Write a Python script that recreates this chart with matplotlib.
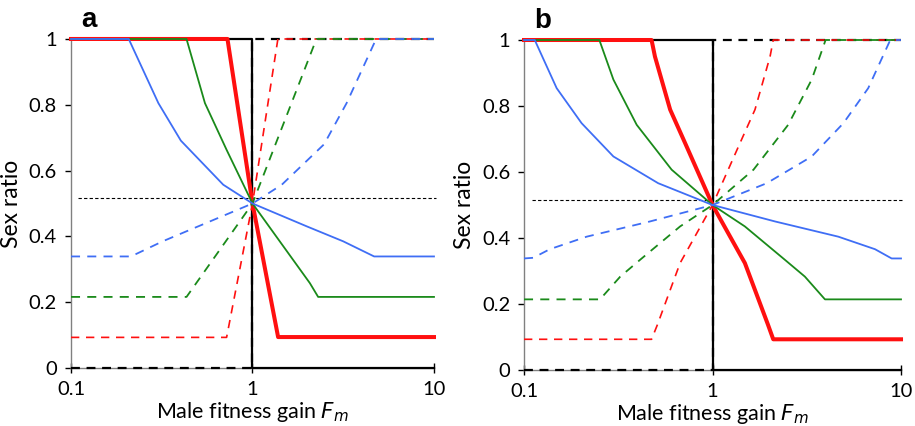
import numpy as np
import matplotlib
matplotlib.use("Agg")
import matplotlib.pyplot as plt
from matplotlib.ticker import FixedLocator, FixedFormatter, NullLocator

plt.rcParams['font.family'] = ['Lato', 'DejaVu Sans']

# ---- panel a data ----
a_blue_x = [0.1, 0.208, 0.303, 0.403, 0.69, 1.0, 2.0, 3.16, 4.68, 10]
a_blue_y = [1.0, 1.0, 0.805, 0.691, 0.557, 0.5, 0.43, 0.385, 0.339, 0.339]
a_blue_dx = [0.1, 0.214, 0.32, 0.5, 1.0, 1.45, 2.48, 3.3, 4.8, 10]
a_blue_dy = [0.339, 0.339, 0.385, 0.43, 0.5, 0.557, 0.68, 0.805, 1.0, 1.0]
a_green_x = [0.1, 0.433, 0.547, 0.72, 1.0, 2.07, 2.30, 10]
a_green_y = [1.0, 1.0, 0.805, 0.663, 0.5, 0.258, 0.216, 0.216]
a_green_dx = [0.1, 0.433, 1.0, 2.25, 10]
a_green_dy = [0.216, 0.216, 0.5, 1.0, 1.0]
a_red_x = [0.1, 0.728, 1.0, 1.384, 10]
a_red_y = [1.0, 1.0, 0.5, 0.094, 0.094]
a_red_dx = [0.1, 0.72, 1.0, 1.38, 10]
a_red_dy = [0.093, 0.093, 0.5, 1.0, 1.0]

# ---- panel b data ----
b_blue_x = [0.1, 0.114, 0.149, 0.202, 0.298, 0.515, 1.0, 2.15, 4.65, 7.28, 8.92, 10]
b_blue_y = [1.0, 1.0, 0.854, 0.748, 0.647, 0.566, 0.5, 0.45, 0.404, 0.366, 0.338, 0.338]
b_blue_dx = [0.1, 0.112, 0.137, 0.215, 0.465, 1.0, 1.94, 3.36, 4.95, 6.7, 8.77, 10]
b_blue_dy = [0.338, 0.34, 0.366, 0.404, 0.45, 0.5, 0.566, 0.647, 0.748, 0.854, 1.0, 1.0]
b_green_x = [0.1, 0.251, 0.298, 0.396, 0.607, 1.0, 1.485, 2.42, 3.09, 3.95, 10]
b_green_y = [1.0, 1.0, 0.88, 0.743, 0.607, 0.5, 0.435, 0.334, 0.283, 0.214, 0.214]
b_green_dx = [0.1, 0.253, 0.324, 0.413, 0.673, 1.0, 1.65, 2.52, 3.36, 3.98, 10]
b_green_dy = [0.214, 0.214, 0.283, 0.334, 0.435, 0.5, 0.607, 0.743, 0.88, 1.0, 1.0]
b_red_x = [0.1, 0.475, 0.495, 0.596, 0.715, 1.0, 1.21, 1.485, 1.97, 2.10, 10]
b_red_y = [1.0, 1.0, 0.95, 0.789, 0.688, 0.5, 0.415, 0.324, 0.137, 0.093, 0.093]
b_red_dx = [0.1, 0.475, 0.51, 0.673, 0.826, 1.0, 1.4, 1.68, 2.02, 2.1, 10]
b_red_dy = [0.093, 0.093, 0.137, 0.324, 0.415, 0.5, 0.688, 0.789, 0.95, 1.0, 1.0]

black_x = [0.1, 1.0, 1.0, 10]
black_y = [1.0, 1.0, 0.0, 0.0]
black_dy = [0.0, 0.0, 1.0, 1.0]
ref_level = 0.516

xticks = [0.1, 1, 10]
xtick_labels = ["0.1", "1", "10"]
yticks = [0, 0.2, 0.4, 0.6, 0.8, 1]
ytick_labels = ["0", "0.2", "0.4", "0.6", "0.8", "1"]

BLUE = "#3f6ef5"
GREEN = "#1a8a1a"
RED = "#ff1010"

panels = [
    ("a", [0.0776, 0.1362, 0.3967, 0.7723], 0.109,
     (a_blue_x, a_blue_y, a_blue_dx, a_blue_dy),
     (a_green_x, a_green_y, a_green_dx, a_green_dy),
     (a_red_x, a_red_y, a_red_dx, a_red_dy)),
    ("b", [0.5727, 0.1315, 0.4120, 0.7746], 0.11,
     (b_blue_x, b_blue_y, b_blue_dx, b_blue_dy),
     (b_green_x, b_green_y, b_green_dx, b_green_dy),
     (b_red_x, b_red_y, b_red_dx, b_red_dy)),
]

fig = plt.figure(figsize=(9.15, 4.26), dpi=100)

for letter, rect, ref_start, blue, green, red in panels:
    ax = fig.add_axes(rect)
    ax.set_xscale("log")
    ax.set_xlim(0.1, 10)
    ax.set_ylim(0, 1)

    ax.plot([ref_start, 10.3], [ref_level, ref_level], color="black",
            lw=0.8, ls=(0, (3, 2)), clip_on=False, zorder=1)

    ax.plot(black_x, black_y, color="black", lw=1.6, clip_on=False, zorder=3)
    ax.plot(black_x, black_dy, color="black", lw=1.6, ls=(0, (4, 3)),
            clip_on=False, zorder=3)

    ax.plot(red[0], red[1], color=RED, lw=2.9, clip_on=False, zorder=4)
    ax.plot(red[2], red[3], color=RED, lw=1.2, ls=(0, (5, 4)),
            clip_on=False, zorder=4)
    ax.plot(green[0], green[1], color=GREEN, lw=1.3, clip_on=False, zorder=5)
    ax.plot(green[2], green[3], color=GREEN, lw=1.3, ls=(0, (5, 4)),
            clip_on=False, zorder=5)
    ax.plot(blue[0], blue[1], color=BLUE, lw=1.3, clip_on=False, zorder=6)
    ax.plot(blue[2], blue[3], color=BLUE, lw=1.3, ls=(0, (5, 4)),
            clip_on=False, zorder=6)

    ax.spines["top"].set_visible(False)
    ax.spines["right"].set_visible(False)
    for side in ("left", "bottom"):
        ax.spines[side].set_color("#808080")
        ax.spines[side].set_linewidth(1.0)
        ax.spines[side].set_zorder(2)

    ax.xaxis.set_major_locator(FixedLocator(xticks))
    ax.xaxis.set_major_formatter(FixedFormatter(xtick_labels))
    ax.xaxis.set_minor_locator(NullLocator())
    ax.set_yticks(yticks)
    ax.set_yticklabels(ytick_labels)
    ax.tick_params(axis="x", direction="inout", length=7, width=1.0,
                   color="black", labelsize=14.5, pad=6)
    ax.tick_params(axis="y", direction="out", length=4, width=1.0,
                   color="black", labelsize=14.5, pad=6)

    ax.set_xlabel("Male fitness gain $\\mathit{F_m}$", fontsize=15.5, labelpad=1)
    ax.set_ylabel("Sex ratio", fontsize=16.5, labelpad=5)
    ax.text(0.027, 1.036, letter, transform=ax.transAxes, fontsize=20,
            fontweight="bold", family=["Liberation Sans", "DejaVu Sans"],
            ha="left", va="baseline")

fig.savefig("out.png", dpi=100)
